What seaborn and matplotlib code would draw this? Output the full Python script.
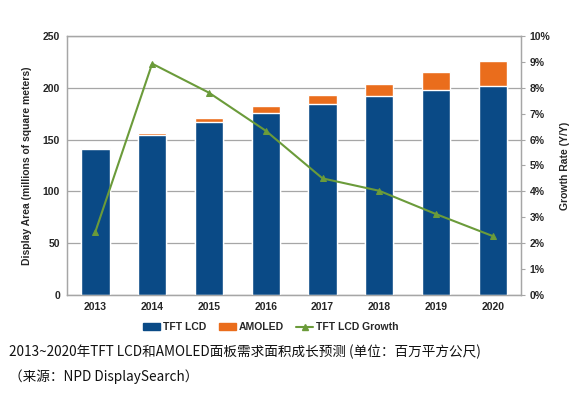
import seaborn as sns
import matplotlib.pyplot as plt
import matplotlib.ticker as mticker
from matplotlib.patches import Patch
from matplotlib.lines import Line2D
import pandas as pd

years = ['2013', '2014', '2015', '2016', '2017', '2018', '2019', '2020']
tft_lcd = [140.6, 154.6, 167.2, 176.0, 184.4, 191.8, 197.6, 202.0]
amoled = [1.6, 1.8, 3.6, 6.7, 8.7, 11.6, 17.3, 23.9]
growth = [2.44, 8.93, 7.81, 6.34, 4.50, 4.02, 3.12, 2.27]

navy = '#0a4a86'
orange = '#ea6d1c'
green = '#6b9b3a'
grey = '#a6a6a6'

df = pd.DataFrame({'year': years, 'tft': tft_lcd, 'amoled': amoled, 'growth': growth})
df['total'] = df['tft'] + df['amoled']

sns.set_style('white')
plt.rcParams['font.family'] = ['Liberation Sans', 'DejaVu Sans']

fig = plt.figure(figsize=(5.7, 4.04), dpi=100)
ax = fig.add_axes([0.1175, 0.27, 0.797, 0.641])

# 堆叠柱：先画总量(橙)，再画TFT(蓝)
sns.barplot(data=df, x='year', y='total', color=orange, width=0.5,
            saturation=1, ax=ax, zorder=2)
sns.barplot(data=df, x='year', y='tft', color=navy, width=0.5,
            saturation=1, ax=ax, zorder=3)

ax.set_ylim(0, 250)
ax.set_xlim(-0.5, 7.5)
ax.set_yticks(range(0, 251, 50))
ax.yaxis.grid(True, color=grey, linewidth=0.9, zorder=0)
ax.set_axisbelow(True)
ax.set_xlabel('')
ax.set_ylabel('Display Area (millions of square meters)', fontsize=7.5,
              fontweight='bold', labelpad=8)
ax.tick_params(axis='both', length=0, labelsize=7.5, pad=5)
for lab in ax.get_xticklabels() + ax.get_yticklabels():
    lab.set_fontweight('bold')
for s in ax.spines.values():
    s.set_color(grey)
    s.set_linewidth(0.9)

# 增长率折线
ax2 = ax.twinx()
sns.lineplot(x=list(range(len(years))), y=growth, color=green, marker='^',
             markersize=5, markeredgecolor=green, linewidth=1.5, ax=ax2,
             zorder=4)
ax2.set_ylim(0, 10)
ax2.set_yticks(range(0, 11))
ax2.yaxis.set_major_formatter(mticker.FuncFormatter(lambda v, p: f'{int(v)}%'))
ax2.set_ylabel('Growth Rate (Y/Y)', fontsize=7.5, fontweight='bold', labelpad=7)
ax2.tick_params(axis='y', length=3, color=grey, labelsize=7.5, pad=3)
for lab in ax2.get_yticklabels():
    lab.set_fontweight('bold')
for s in ax2.spines.values():
    s.set_color(grey)
    s.set_linewidth(0.9)

handles = [Patch(color=navy), Patch(color=orange),
           Line2D([], [], color=green, marker='^', markersize=4, linewidth=1.5)]
fig.legend(handles, ['TFT LCD', 'AMOLED', 'TFT LCD Growth'],
           loc='center', bbox_to_anchor=(271 / 570, 1 - 327 / 404), ncol=3,
           frameon=False, prop={'size': 7.5, 'weight': 'bold'},
           handlelength=1.6, handleheight=0.6, handletextpad=0.3,
           columnspacing=1.2)

cjk = ['Noto Sans CJK SC', 'DejaVu Sans']
fig.text(9 / 570, 1 - 352 / 404,
         '2013~2020年TFT LCD和AMOLED面板需求面积成长预测 (单位：百万平方公尺)',
         family=cjk, fontsize=9.8, va='center', ha='left', color='#111111')
fig.text(9 / 570, 1 - 377 / 404, '（来源：NPD DisplaySearch）',
         family=cjk, fontsize=9.8, va='center', ha='left', color='#111111')

fig.savefig('out.png', dpi=100)
